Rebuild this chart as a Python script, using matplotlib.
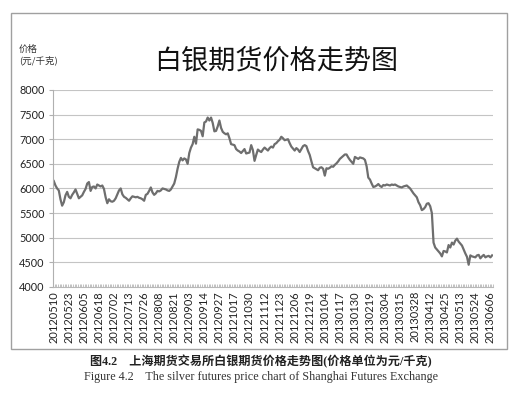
import matplotlib
matplotlib.use("Agg")
import matplotlib.pyplot as plt
from matplotlib.patches import Rectangle

# ---- data ----
prices = [
    6150, 6060, 6000, 5960, 5780, 5650, 5720, 5860, 5930, 5830,
    5800, 5870, 5920, 5980, 5890, 5800, 5830, 5860, 5930, 5990,
    6100, 6130, 5950, 6030, 6040, 6000, 6080, 6060, 6040, 6060,
    5990, 5820, 5700, 5780, 5740, 5730, 5750, 5800, 5880, 5960,
    6000, 5880, 5830, 5810, 5780, 5750, 5800, 5840, 5830, 5820,
    5830, 5810, 5800, 5780, 5750, 5870, 5890, 5950, 6020, 5920,
    5870, 5900, 5950, 5940, 5960, 6000, 5990, 5980, 5960, 5950,
    5980, 6040, 6100, 6230, 6400, 6540, 6620, 6570, 6610, 6590,
    6500, 6720, 6830, 6900, 7050, 6910, 7200, 7190, 7170, 7060,
    7340, 7360, 7440, 7380, 7440, 7330, 7160, 7170, 7260, 7380,
    7230, 7150, 7120, 7100, 7120, 7020, 6900, 6890, 6880, 6800,
    6770, 6750, 6720, 6760, 6800, 6710, 6720, 6730, 6880, 6780,
    6560, 6680, 6790, 6760, 6740, 6790, 6830, 6800, 6770, 6820,
    6850, 6830, 6900, 6920, 6960, 6990, 7050, 7020, 6980, 6990,
    7000, 6920, 6850, 6810, 6770, 6820, 6790, 6740, 6800, 6860,
    6880, 6860, 6760, 6680, 6550, 6430, 6410, 6390, 6370, 6420,
    6430, 6400, 6260, 6410, 6400, 6420, 6450, 6440, 6480, 6510,
    6550, 6600, 6630, 6660, 6690, 6690, 6630, 6580, 6540, 6500,
    6640, 6620, 6600, 6630, 6620, 6610, 6580, 6450, 6220, 6180,
    6100, 6030, 6040, 6060, 6090, 6050, 6030, 6070, 6060, 6080,
    6070, 6060, 6080, 6070, 6080, 6060, 6040, 6030, 6020, 6040,
    6050, 6060, 6030, 6000, 5950, 5900, 5860, 5820, 5720, 5660,
    5560, 5580, 5620, 5690, 5700, 5640, 5500, 4900, 4800, 4760,
    4720, 4680, 4620, 4730, 4720, 4700, 4850, 4800, 4900, 4860,
    4940, 4980, 4920, 4880, 4840, 4760, 4680, 4610, 4450, 4640,
    4620, 4610, 4600, 4640, 4650, 4580, 4620, 4650, 4600, 4620,
    4630, 4600, 4640,
]
date_labels = [
    "20120510", "20120523", "20120605", "20120618", "20120702", "20120713",
    "20120726", "20120808", "20120821", "20120903", "20120914", "20120927",
    "20121017", "20121030", "20121112", "20121123", "20121206", "20121219",
    "20130104", "20130117", "20130130", "20130219", "20130304", "20130315",
    "20130328", "20130412", "20130425", "20130513", "20130524", "20130606",
]
label_step = 9
y_ticks = [4000, 4500, 5000, 5500, 6000, 6500, 7000, 7500, 8000]

title = "白银期货价格走势图"
ylabel = "价格\n(元/千克)"
caption_cn = "图4.2　上海期货交易所白银期货价格走势图(价格单位为元/千克)"
caption_en = "Figure 4.2    The silver futures price chart of Shanghai Futures Exchange"

# ---- figure ----
cjk = ["Noto Sans CJK SC", "DejaVu Sans"]
fig = plt.figure(figsize=(5.14, 3.93), dpi=100)
fig.patch.set_facecolor("white")

# outer chart border
fig.patches.append(Rectangle((0.021, 0.112), 0.965, 0.855, transform=fig.transFigure,
                             fill=False, edgecolor="#a0a0a0", linewidth=1.0))

ax = fig.add_axes([0.103, 0.270, 0.856, 0.501])
n = len(prices)
xs = list(range(n))
ax.plot(xs, prices, color="#6e6e6e", linewidth=1.6, solid_joinstyle="round")

ax.set_xlim(-0.5, n - 0.5)
ax.set_ylim(4000, 8000)
ax.set_yticks(y_ticks)
ax.set_yticklabels([str(v) for v in y_ticks], fontfamily="Lato", fontsize=7.8, color="#222222")
ax.yaxis.grid(True, color="#c4c4c4", linewidth=0.8)
ax.set_axisbelow(True)

label_pos = [i * label_step for i in range(len(date_labels))]
ax.set_xticks(label_pos)
ax.set_xticklabels(date_labels, rotation=90, fontfamily="Lato", fontsize=8, color="#222222")
ax.set_xticks([i + 0.5 for i in range(-1, n)], minor=True)
ax.tick_params(axis="x", which="major", length=0, pad=3)
ax.tick_params(axis="x", which="minor", length=2.5, direction="in", color="#b8b8b8", width=0.6)
ax.tick_params(axis="y", length=3, direction="out", color="#b0b0b0", pad=3)

for s in ["top", "right"]:
    ax.spines[s].set_visible(False)
ax.spines["left"].set_color("#b0b0b0")
ax.spines["bottom"].set_color("#b8b8b8")
ax.spines["left"].set_linewidth(0.8)
ax.spines["bottom"].set_linewidth(0.8)

fig.text(0.537, 0.845, title, family=cjk, fontsize=19.5, ha="center", va="center", color="#111111")
fig.text(0.037, 0.860, ylabel, family=cjk, fontsize=6.8, ha="left", va="center",
         color="#333333", linespacing=1.3)

fig.text(0.508, 0.079, caption_cn, family=["Liberation Serif", "Noto Sans CJK SC"],
         fontsize=8.7, fontweight="bold", ha="center", va="center", color="#222222")
fig.text(0.508, 0.040, caption_en, family=["Liberation Serif"], fontsize=8.7,
         ha="center", va="center", color="#333333")

fig.savefig("out.png", dpi=100, facecolor="white")
